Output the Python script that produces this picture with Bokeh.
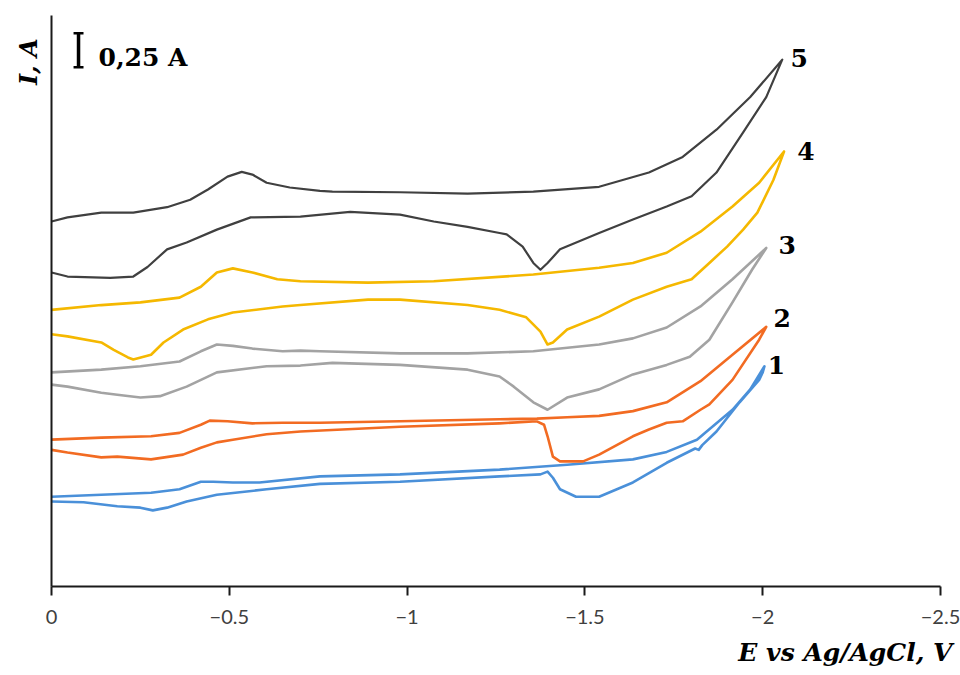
import math
from bokeh.plotting import figure
from bokeh.models import Range1d, FixedTicker, Title
from bokeh.core.properties import value
from bokeh.embed import file_html
from bokeh.resources import INLINE

# ---------------- data ----------------
tick_values = [0, -0.5, -1, -1.5, -2, -2.5]
tick_labels = ["0", "\u22120.5", "\u22121", "\u22121.5", "\u22122", "\u22122.5"]

curve_names = ["1", "2", "3", "4", "5"]

# curve 1 (blue)
E1 = [0, -0.14, -0.28, -0.36, -0.42, -0.455, -0.51, -0.585, -0.755, -0.98,
      -1.26, -1.45, -1.635, -1.73, -1.815, -1.915, -1.965, -2.005,
      -2.0, -1.99, -1.935, -1.87, -1.83, -1.82, -1.81, -1.73, -1.635, -1.59,
      -1.54, -1.475, -1.43, -1.41, -1.395, -1.375, -1.26, -0.98, -0.755, -0.605,
      -0.465, -0.38, -0.325, -0.285, -0.25, -0.185, -0.09, 0]
I1 = [0.66, 0.675, 0.69, 0.715, 0.77, 0.77, 0.765, 0.765, 0.81, 0.825,
      0.86, 0.895, 0.935, 0.99, 1.08, 1.30, 1.45, 1.62,
      1.575, 1.52, 1.355, 1.14, 1.04, 1.005, 1.015, 0.91, 0.765, 0.715,
      0.66, 0.66, 0.715, 0.80, 0.845, 0.825, 0.81, 0.77, 0.755, 0.715,
      0.675, 0.625, 0.58, 0.56, 0.58, 0.59, 0.62, 0.625]

# curve 2 (orange)
E2 = [0, -0.14, -0.28, -0.36, -0.42, -0.445, -0.495, -0.565, -0.65, -0.755,
      -0.98, -1.26, -1.365, -1.45, -1.54, -1.635, -1.73, -1.825, -1.915, -2.01,
      -1.99, -1.915, -1.85, -1.825, -1.775, -1.73, -1.68, -1.635, -1.54, -1.495,
      -1.43, -1.41, -1.395, -1.385, -1.365, -1.26, -0.98, -0.70, -0.605, -0.51,
      -0.465, -0.42, -0.37, -0.28, -0.185, -0.14, -0.045, 0]
I2 = [1.08, 1.095, 1.105, 1.13, 1.19, 1.22, 1.215, 1.20, 1.205, 1.205,
      1.215, 1.23, 1.235, 1.245, 1.255, 1.29, 1.355, 1.51, 1.705, 1.91,
      1.815, 1.52, 1.34, 1.30, 1.215, 1.205, 1.155, 1.105, 0.97, 0.92,
      0.92, 0.955, 1.105, 1.19, 1.215, 1.20, 1.175, 1.14, 1.12, 1.08,
      1.06, 1.02, 0.97, 0.935, 0.955, 0.95, 0.985, 1.005]

# curve 3 (grey)
E3 = [0, -0.14, -0.25, -0.36, -0.42, -0.465, -0.51, -0.565, -0.65, -0.70,
      -0.755, -0.98, -1.17, -1.355, -1.54, -1.635, -1.73, -1.825, -1.915, -2.01,
      -1.97, -1.915, -1.85, -1.795, -1.73, -1.635, -1.54, -1.45, -1.395, -1.355,
      -1.30, -1.26, -1.17, -0.98, -0.79, -0.70, -0.605, -0.465, -0.38, -0.305,
      -0.25, -0.185, -0.14, -0.045, 0]
I3 = [1.575, 1.595, 1.62, 1.655, 1.73, 1.78, 1.77, 1.75, 1.73, 1.735,
      1.73, 1.715, 1.715, 1.73, 1.78, 1.825, 1.905, 2.06, 2.26, 2.49,
      2.33, 2.09, 1.815, 1.69, 1.63, 1.56, 1.45, 1.39, 1.30, 1.355,
      1.47, 1.545, 1.595, 1.63, 1.645, 1.625, 1.62, 1.575, 1.47, 1.40,
      1.39, 1.41, 1.425, 1.47, 1.485]

# curve 4 (gold)
E4 = [0, -0.14, -0.25, -0.36, -0.42, -0.465, -0.51, -0.565, -0.635, -0.70,
      -0.89, -1.075, -1.355, -1.54, -1.635, -1.73, -1.825, -1.915, -1.99, -2.06,
      -2.03, -1.985, -1.945, -1.90, -1.85, -1.80, -1.73, -1.635, -1.54, -1.45,
      -1.41, -1.395, -1.375, -1.335, -1.26, -1.17, -0.98, -0.89, -0.70, -0.65,
      -0.51, -0.44, -0.37, -0.315, -0.28, -0.23, -0.215, -0.175, -0.14, -0.045, 0]
I4 = [2.035, 2.07, 2.09, 2.125, 2.205, 2.31, 2.34, 2.31, 2.26, 2.245,
      2.235, 2.245, 2.295, 2.345, 2.38, 2.455, 2.61, 2.795, 2.97, 3.20,
      2.99, 2.75, 2.625, 2.50, 2.38, 2.26, 2.205, 2.11, 1.985, 1.89,
      1.795, 1.78, 1.875, 1.98, 2.035, 2.07, 2.11, 2.11, 2.07, 2.06,
      2.015, 1.965, 1.89, 1.795, 1.705, 1.67, 1.685, 1.74, 1.795, 1.84, 1.855]

# curve 5 (dark grey)
E5 = [0, -0.045, -0.14, -0.23, -0.325, -0.39, -0.44, -0.495, -0.535, -0.565,
      -0.605, -0.67, -0.755, -0.79, -0.98, -1.17, -1.355, -1.54, -1.68, -1.775,
      -1.87, -1.965, -2.055,
      -2.01, -1.945, -1.87, -1.80, -1.73, -1.635, -1.54, -1.43, -1.395, -1.375,
      -1.355, -1.325, -1.28, -1.26, -1.17, -1.075, -0.98, -0.84, -0.70, -0.56,
      -0.465, -0.38, -0.325, -0.27, -0.23, -0.165, -0.045, 0]
I5 = [2.685, 2.715, 2.75, 2.75, 2.79, 2.845, 2.92, 3.015, 3.05, 3.03,
      2.97, 2.935, 2.91, 2.905, 2.90, 2.89, 2.905, 2.94, 3.045, 3.16,
      3.36, 3.60, 3.875,
      3.60, 3.34, 3.045, 2.87, 2.795, 2.70, 2.60, 2.48, 2.38, 2.33,
      2.38, 2.50, 2.59, 2.60, 2.645, 2.685, 2.735, 2.755, 2.72, 2.715,
      2.625, 2.53, 2.48, 2.35, 2.28, 2.27, 2.28, 2.31]

scale_bar_A = 0.25
scale_bar_text = "0,25 A"
x_title = "E vs Ag/AgCl, V"
y_title = "I, A"

# ---------------- styling ----------------
colors = ["#4A90D9", "#F26B22", "#A3A3A3", "#F5B800", "#404040"]
widths = [2.6, 2.6, 2.6, 2.6, 2.2]
label_dx = [12, 16, 21, 22, 17]
label_dy = [-1, -9, -3, 0, -2]

serif = "DejaVu Serif"

p = figure(width=960, height=675, output_backend="svg", toolbar_location=None,
           x_range=Range1d(0, -2.5), y_range=Range1d(0, 4.2),
           min_border_left=51, min_border_right=20, min_border_top=15,
           min_border_bottom=88)
p.outline_line_color = None
p.grid.visible = False
p.background_fill_color = "white"
p.border_fill_color = "white"

# x axis
p.xaxis.ticker = FixedTicker(ticks=tick_values)
p.xaxis.major_label_overrides = {v: s for v, s in zip(tick_values, tick_labels)}
p.xaxis.minor_tick_line_color = None
p.xaxis.major_tick_out = 9
p.xaxis.major_tick_in = 0
p.xaxis.major_tick_line_width = 2
p.xaxis.major_tick_line_color = "#1a1a1a"
p.xaxis.axis_line_width = 2
p.xaxis.axis_line_color = "#1a1a1a"
p.xaxis.major_label_standoff = 14
p.xaxis.major_label_text_font = "Lato"
p.xaxis.major_label_text_font_size = "20px"
p.xaxis.major_label_text_color = "#404040"

# y axis: line only
p.yaxis.ticker = FixedTicker(ticks=[])
p.yaxis.major_label_text_font_size = "0px"
p.yaxis.major_tick_line_color = None
p.yaxis.minor_tick_line_color = None
p.yaxis.axis_line_width = 2
p.yaxis.axis_line_color = "#1a1a1a"

curves = [(E1, I1), (E2, I2), (E3, I3), (E4, I4), (E5, I5)]
for (E, I), c, w in zip(curves, colors, widths):
    p.line(E, I, line_color=c, line_width=w, line_join="round", line_cap="round")

# curve number labels at the switching potential of each loop
for k, (E, I) in enumerate(curves):
    j = min(range(len(E)), key=lambda n: E[n])
    p.text(x=[E[j]], y=[I[j]], text=[curve_names[k]], x_offset=label_dx[k],
           y_offset=label_dy[k], text_font=value(serif), text_font_style="bold",
           text_font_size="25px", text_align="center", text_baseline="middle",
           text_color="black")

# scale bar (0.25 A)
bar_E = -0.076
bar_lo = 3.82
p.segment(x0=[bar_E], y0=[bar_lo], x1=[bar_E], y1=[bar_lo + scale_bar_A],
          line_color="black", line_width=3.5)
p.segment(x0=[bar_E + 0.014, bar_E + 0.014], y0=[bar_lo, bar_lo + scale_bar_A],
          x1=[bar_E - 0.014, bar_E - 0.014], y1=[bar_lo, bar_lo + scale_bar_A],
          line_color="black", line_width=2.5)
p.text(x=[bar_E], y=[bar_lo], text=[scale_bar_text], x_offset=20, y_offset=-10,
       text_font=value(serif), text_font_style="bold", text_font_size="25px",
       text_align="left", text_baseline="middle", text_color="black")

# axis titles (as side titles so they are not clipped by the frame)
p.add_layout(Title(text=y_title, align="right", text_font=serif,
                   text_font_style="bold italic", text_font_size="24px",
                   text_color="black", standoff=17, offset=23), "left")
p.add_layout(Title(text=x_title, align="right", text_font=serif,
                   text_font_style="bold italic", text_font_size="25px",
                   text_color="black", standoff=18, offset=-12), "below")

open("out.html", "w").write(file_html(p, INLINE))
